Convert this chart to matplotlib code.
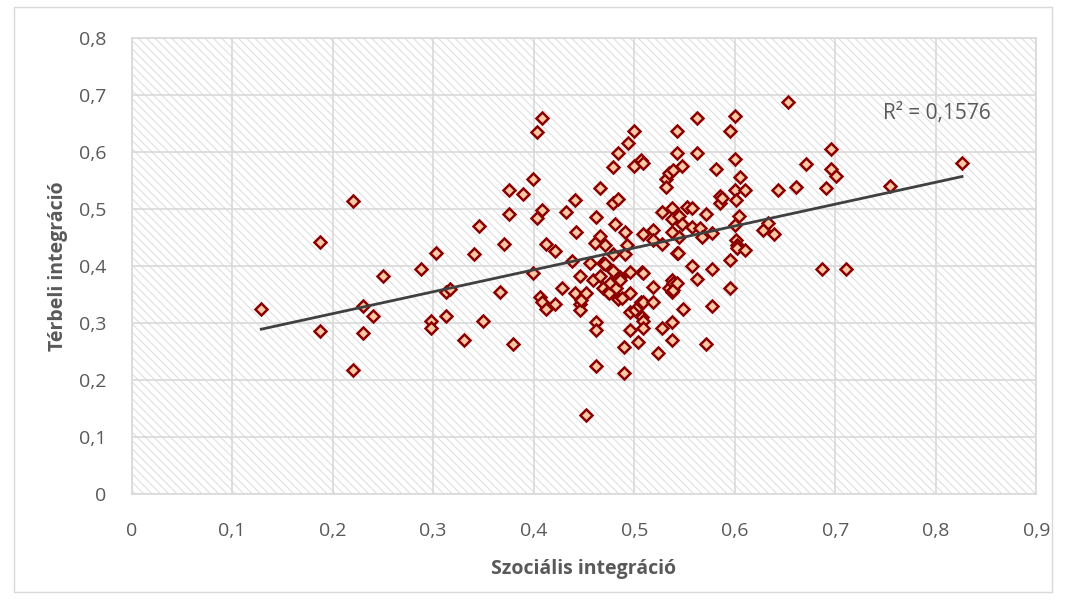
import numpy as np
import matplotlib
matplotlib.use("Agg")
import matplotlib.pyplot as plt
from matplotlib.patches import Rectangle

# Data
szocialis = [0.129, 0.187, 0.187, 0.220, 0.220, 0.230, 0.230, 0.240, 0.250, 0.288,
             0.298, 0.298, 0.303, 0.313, 0.317, 0.313, 0.331, 0.341, 0.346, 0.350,
             0.366, 0.370, 0.375, 0.375, 0.379, 0.389, 0.399, 0.399, 0.403, 0.408,
             0.408, 0.403, 0.406, 0.408, 0.412, 0.412, 0.421, 0.421, 0.428, 0.432,
             0.438, 0.441, 0.442, 0.441, 0.446, 0.446, 0.446, 0.447, 0.452, 0.452,
             0.456, 0.459, 0.461, 0.462, 0.462, 0.462, 0.462, 0.466, 0.466, 0.466,
             0.469, 0.469, 0.471, 0.471, 0.474, 0.475, 0.476, 0.479, 0.479, 0.479,
             0.479, 0.481, 0.482, 0.484, 0.484, 0.484, 0.484, 0.486, 0.486, 0.488,
             0.490, 0.490, 0.491, 0.491, 0.493, 0.494, 0.496, 0.496, 0.496, 0.496,
             0.500, 0.500, 0.501, 0.504, 0.505, 0.507, 0.507, 0.508, 0.508, 0.509,
             0.509, 0.509, 0.509, 0.509, 0.509, 0.519, 0.519, 0.519, 0.519, 0.524,
             0.528, 0.528, 0.528, 0.532, 0.532, 0.535, 0.535, 0.538, 0.538, 0.538,
             0.538, 0.538, 0.538, 0.538, 0.539, 0.539, 0.539, 0.542, 0.542, 0.542,
             0.542, 0.543, 0.544, 0.544, 0.547, 0.547, 0.548, 0.552, 0.557, 0.557,
             0.557, 0.562, 0.562, 0.562, 0.565, 0.567, 0.571, 0.571, 0.577, 0.577,
             0.577, 0.581, 0.585, 0.585, 0.587, 0.595, 0.595, 0.595, 0.600, 0.600,
             0.600, 0.601, 0.600, 0.601, 0.602, 0.602, 0.604, 0.605, 0.610, 0.610,
             0.628, 0.633, 0.639, 0.643, 0.653, 0.661, 0.671, 0.687, 0.691, 0.696,
             0.696, 0.701, 0.711, 0.754, 0.826]
terbeli = [0.324, 0.442, 0.286, 0.514, 0.218, 0.329, 0.282, 0.312, 0.382, 0.394,
           0.304, 0.291, 0.423, 0.354, 0.359, 0.312, 0.270, 0.421, 0.471, 0.304,
           0.355, 0.438, 0.533, 0.492, 0.264, 0.526, 0.553, 0.387, 0.635, 0.659,
           0.499, 0.484, 0.346, 0.337, 0.439, 0.324, 0.427, 0.333, 0.361, 0.495,
           0.408, 0.516, 0.460, 0.353, 0.382, 0.333, 0.323, 0.340, 0.353, 0.139,
           0.406, 0.375, 0.441, 0.486, 0.225, 0.302, 0.288, 0.537, 0.453, 0.382,
           0.406, 0.361, 0.437, 0.404, 0.355, 0.352, 0.370, 0.573, 0.511, 0.421,
           0.392, 0.473, 0.361, 0.599, 0.517, 0.378, 0.342, 0.381, 0.375, 0.343,
           0.258, 0.213, 0.459, 0.421, 0.437, 0.616, 0.390, 0.352, 0.320, 0.288,
           0.637, 0.575, 0.323, 0.267, 0.329, 0.586, 0.337, 0.390, 0.310, 0.581,
           0.456, 0.388, 0.337, 0.304, 0.291, 0.463, 0.446, 0.364, 0.336, 0.248,
           0.495, 0.439, 0.291, 0.552, 0.538, 0.563, 0.361, 0.501, 0.482, 0.460,
           0.375, 0.355, 0.302, 0.270, 0.568, 0.370, 0.358, 0.636, 0.599, 0.422,
           0.371, 0.423, 0.487, 0.451, 0.575, 0.474, 0.324, 0.504, 0.501, 0.469,
           0.400, 0.659, 0.599, 0.377, 0.466, 0.451, 0.491, 0.264, 0.458, 0.394,
           0.329, 0.571, 0.522, 0.510, 0.519, 0.636, 0.411, 0.361, 0.664, 0.587,
           0.533, 0.516, 0.472, 0.446, 0.437, 0.431, 0.487, 0.556, 0.533, 0.428,
           0.464, 0.476, 0.456, 0.533, 0.687, 0.539, 0.579, 0.394, 0.537, 0.605,
           0.571, 0.557, 0.394, 0.540, 0.581]
x_ticks = [0, 0.1, 0.2, 0.3, 0.4, 0.5, 0.6, 0.7, 0.8, 0.9]
y_ticks = [0, 0.1, 0.2, 0.3, 0.4, 0.5, 0.6, 0.7, 0.8]
r2_label = "R² = 0,1576"
x_title = "Szociális integráció"
y_title = "Térbeli integráció"

plt.rcParams['font.family'] = ['Open Sans', 'DejaVu Sans']
plt.rcParams['hatch.linewidth'] = 0.7

fig = plt.figure(figsize=(10.66, 6.03), dpi=100)
fig.patch.set_facecolor('white')
fig.patches.append(Rectangle((0.013, 0.018), 0.974, 0.97, transform=fig.transFigure,
                             fill=False, edgecolor='#d9d9d9', linewidth=1.0))

ax = fig.add_axes([0.1234, 0.1808, 0.8489, 0.7562])
ax.set_facecolor('white')
ax.add_patch(Rectangle((0, 0), 1, 1, transform=ax.transAxes, facecolor='white',
                       edgecolor='#dcdcdc', hatch='\\\\\\\\', linewidth=0, zorder=0))

ax.set_xlim(0, 0.9)
ax.set_ylim(0, 0.8)
ax.set_xticks(x_ticks)
ax.set_yticks(y_ticks)
fmt = lambda v: ('0' if v == 0 else f"{v:.1f}".replace('.', ','))
ax.set_xticklabels([fmt(v) for v in x_ticks])
ax.set_yticklabels([fmt(v) for v in y_ticks])
ax.grid(True, color='#d9d9d9', linewidth=1.2, zorder=1)
ax.set_axisbelow(True)
for s in ax.spines.values():
    s.set_color('#d9d9d9')
    s.set_linewidth(1.2)
ax.tick_params(length=0, labelsize=14, colors='#595959')
ax.tick_params(axis='y', pad=18)
ax.tick_params(axis='x', pad=20)

x = np.array(szocialis)
y = np.array(terbeli)
ax.plot(x, y, linestyle='none', marker='D', markersize=6.5, markerfacecolor='#f9c8a6',
        markeredgecolor='#8b0000', markeredgewidth=1.8, zorder=3, clip_on=False)

slope, intercept = np.polyfit(x, y, 1)
xl = np.array([x.min(), x.max()])
ax.plot(xl, slope * xl + intercept, color='#404040', linewidth=2.0, zorder=4)

ax.text(0.747, 0.668, r2_label, fontsize=15, color='#595959', ha='left', va='center',
        zorder=5)

ax.set_xlabel(x_title, fontsize=14, fontweight='bold', color='#595959', labelpad=14)
ax.set_ylabel(y_title, fontsize=14, fontweight='bold', color='#595959', labelpad=8)

fig.savefig('out.png', dpi=100, facecolor='white')
